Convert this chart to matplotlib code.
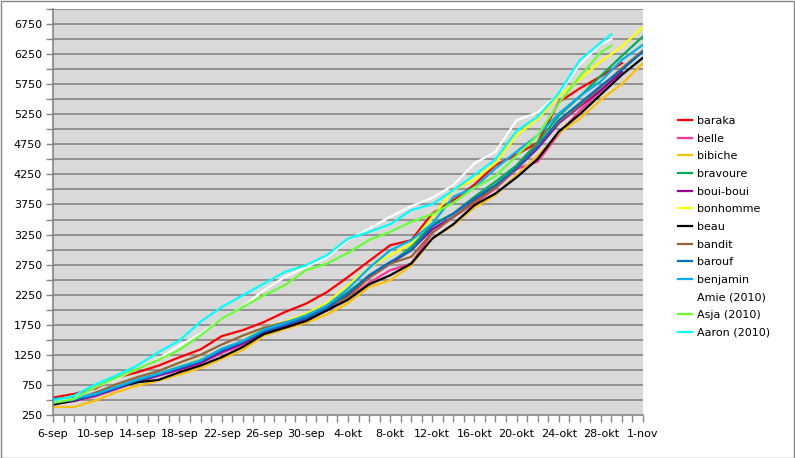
import numpy as np
import matplotlib
matplotlib.use("Agg")
import matplotlib.pyplot as plt
from matplotlib.patches import Rectangle

nan = np.nan

# day offsets from 6-sep
days = list(range(0, 57, 2))
days_2010 = list(range(0, 53, 2)) + [53]

tick_days = list(range(0, 57, 4))
tick_labels = ["6-sep", "10-sep", "14-sep", "18-sep", "22-sep", "26-sep", "30-sep",
               "4-okt", "8-okt", "12-okt", "16-okt", "20-okt", "24-okt", "28-okt", "1-nov"]

baraka = [540, 600, 690, 870, 960, 1070, 1210, 1340, 1560, 1660, 1794, 1961, 2100, 2294, 2544,
          2810, 3072, 3156, 3600, 3822, 4080, 4406, 4580, 4780, 5450, 5680, 5880, 6100, nan]
belle = [440, 480, 560, 680, 800, 900, 1000, 1110, 1278, 1420, 1600, 1710, 1833, 1990, 2183,
         2450, 2656, 2767, 3278, 3544, 3767, 4017, 4340, 4461, 4920, 5310, 5639, 5950, nan]
bibiche = [383, 383, 489, 628, 739, 822, 922, 1033, 1183, 1330, 1567, 1680, 1783, 1922, 2111,
           2378, 2489, 2739, 3183, 3406, 3700, 3906, 4240, 4561, 4933, 5180, 5490, 5756, 6100]
bravoure = [460, 510, 600, 720, 840, 930, 1050, 1170, 1330, 1470, 1660, 1770, 1878, 2044, 2294,
            2561, 2767, 3044, 3417, 3600, 3878, 4128, 4400, 4783, 5225, 5544, 5890, 6222, 6544]
boui_boui = [450, 490, 570, 690, 810, 910, 1010, 1120, 1300, 1440, 1620, 1730, 1850, 2017, 2239,
             2533, 2767, 2989, 3339, 3544, 3811, 4056, 4340, 4683, 5100, 5380, 5650, 5961, nan]
bonhomme = [470, 510, 600, 730, 840, 940, 1050, 1170, 1340, 1480, 1700, 1800, 1933, 2111, 2406,
            2700, 2906, 3100, 3533, 3989, 4167, 4433, 4900, 5172, 5550, 5830, 6130, 6378, 6700]
beau = [422, 489, 600, 711, 794, 833, 961, 1072, 1211, 1380, 1594, 1700, 1811, 1989, 2167,
        2422, 2572, 2767, 3183, 3422, 3739, 3933, 4200, 4506, 4960, 5250, 5580, 5906, 6190]
bandit = [455, 500, 620, 760, 880, 980, 1120, 1250, 1420, 1570, 1700, 1790, 1880, 2050, 2210,
          2533, 2767, 2880, 3283, 3544, 3794, 4033, 4350, 4740, 5120, 5400, 5700, 6017, 6310]
barouf = [460, 500, 580, 700, 820, 920, 1030, 1140, 1320, 1460, 1640, 1750, 1860, 2030, 2270,
          2572, 2794, 2989, 3389, 3600, 3850, 4072, 4360, 4711, 5150, 5433, 5722, 5989, 6294]
benjamin = [520, 530, 600, 720, 840, 940, 1050, 1160, 1350, 1480, 1670, 1780, 1906, 2072, 2350,
            2694, 2989, 3156, 3433, 3878, 4033, 4350, 4630, 4900, 5260, 5550, 5800, 6156, 6406]
amie_2010 = [472, 517, 711, 850, 1017, 1183, 1405, 1600, 1850, 2050, 2322, 2544, 2711, 2867,
             3156, 3350, 3544, 3722, 3861, 4072, 4433, 4628, 5150, 5278, 5590, 6080, 6420, 6500]
asja_2010 = [450, 517, 711, 867, 1017, 1167, 1333, 1572, 1850, 2044, 2239, 2406, 2656, 2767,
             2944, 3160, 3294, 3461, 3589, 3780, 4030, 4222, 4560, 4900, 5430, 5880, 6280, 6390]
aaron_2010 = [490, 572, 756, 906, 1072, 1294, 1489, 1800, 2044, 2239, 2433, 2628, 2739, 2906,
              3183, 3294, 3422, 3656, 3756, 3989, 4239, 4500, 4970, 5211, 5600, 6150, 6440, 6580]

series = [
    ("baraka", days, baraka, "#ff0000"),
    ("belle", days, belle, "#ff3399"),
    ("bibiche", days, bibiche, "#ffc000"),
    ("bravoure", days, bravoure, "#00b050"),
    ("boui-boui", days, boui_boui, "#990099"),
    ("bonhomme", days, bonhomme, "#ffff00"),
    ("beau", days, beau, "#000000"),
    ("bandit", days, bandit, "#996633"),
    ("barouf", days, barouf, "#0070c0"),
    ("benjamin", days, benjamin, "#00b0f0"),
    ("Amie (2010)", days_2010, amie_2010, "#ffffff"),
    ("Asja (2010)", days_2010, asja_2010, "#66ff33"),
    ("Aaron (2010)", days_2010, aaron_2010, "#00ffff"),
]

W, H = 795, 458
fig = plt.figure(figsize=(W / 100, H / 100), dpi=100)
fig.patch.set_facecolor("white")
ax = fig.add_axes([53 / W, 1 - 415 / H, (643 - 53) / W, (415 - 9) / H])
ax.set_facecolor("#d9d9d9")

for name, x, y, c in series:
    ax.plot(x, y, color=c, lw=1.6, label=name, solid_joinstyle="miter")

ax.set_xlim(0, 56)
ax.set_ylim(250, 7000)

grid_vals = np.arange(250, 7001, 250)
for g in grid_vals[1:]:
    ax.axhline(g, color="#868686", lw=1.2, zorder=0.5)

ax.set_yticks(np.arange(250, 6751, 500))
ax.set_yticks(grid_vals, minor=True)
ax.set_xticks(tick_days)
ax.set_xticklabels(tick_labels)
ax.set_xticks(range(0, 57), minor=True)

for s in ["top", "right"]:
    ax.spines[s].set_visible(False)
for s in ["left", "bottom"]:
    ax.spines[s].set_color("#868686")
    ax.spines[s].set_linewidth(1.2)

ax.tick_params(axis="both", which="both", direction="out", color="#868686", width=1)
ax.tick_params(axis="y", which="major", length=5, labelsize=8, pad=3)
ax.tick_params(axis="y", which="minor", length=5)
ax.tick_params(axis="x", which="major", length=5, labelsize=8, pad=5)
ax.tick_params(axis="x", which="minor", length=5)

fig.legend(loc="upper left", bbox_to_anchor=(678 / W, 1 - 116 / H), frameon=False,
           fontsize=8, handlelength=1.3, handletextpad=0.45, labelspacing=0.69,
           borderpad=0, borderaxespad=0)

fig.add_artist(Rectangle((0.5 / W, 0.5 / H), (W - 1.5) / W, (H - 1.5) / H,
                         transform=fig.transFigure, fill=False, edgecolor="#868686", lw=1))

fig.savefig("out.png", dpi=100, facecolor="white")
